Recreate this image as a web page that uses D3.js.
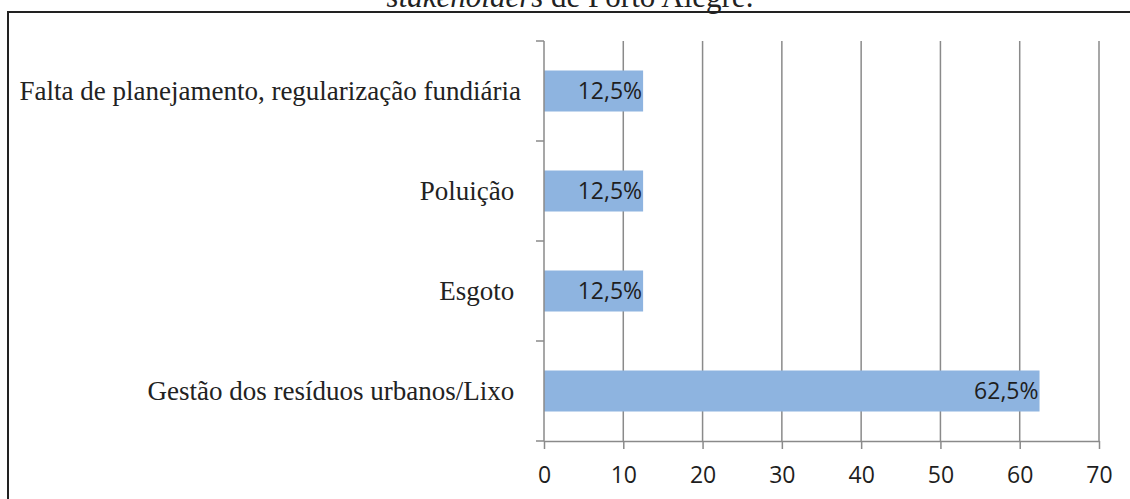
<!DOCTYPE html>
<html>
<head>
    <meta charset="UTF-8" />
    <style>
        body { margin: 0; background: #fff; }
        svg { display: block; }
        .cat { font-family: "Liberation Serif", "Times New Roman", serif; font-size: 27px; fill: #222; white-space: pre; }
        .num { font-family: "Open Sans", sans-serif; font-size: 23px; fill: #1e1e1e; }
    </style>
</head>
<body>
    <svg></svg>
    <script src="https://cdn.jsdelivr.net/npm/d3@7"></script>
    <script>
        // data
        let categories = ["Falta de planejamento, regularização fundiária", "Poluição ", "Esgoto ", "Gestão dos resíduos urbanos/Lixo "];
        let values = [12.5, 12.5, 12.5, 62.5];
        let valueLabels = ["12,5%", "12,5%", "12,5%", "62,5%"];
        let xTicks = [0, 10, 20, 30, 40, 50, 60, 70];

        let width = 1130,
            height = 499;

        let svg = d3.select("svg").attr("width", width).attr("height", height);

        // title cut off at the top of the picture
        let title = svg.append("text")
            .attr("x", 570)
            .attr("y", 7)
            .attr("text-anchor", "middle")
            .style("font-family", "'Liberation Serif', serif")
            .style("font-size", "31px")
            .style("fill", "#222");
        title.append("tspan").style("font-style", "italic").text("stakeholders");
        title.append("tspan").text(" de Porto Alegre.");

        // chart frame (runs off the right and bottom edges)
        svg.append("rect")
            .attr("x", 8)
            .attr("y", 12)
            .attr("width", 1200)
            .attr("height", 600)
            .attr("fill", "none")
            .attr("stroke", "#222")
            .attr("stroke-width", 2);

        let x = d3.scaleLinear().domain([0, 70]).range([544, 1099]);
        let y = d3.scaleBand().domain(categories).range([41, 441])
            .paddingInner(0.59).paddingOuter(0.295);

        let axisColor = "#8a8a8a";

        // vertical gridlines
        svg.append("g")
            .selectAll("line")
            .data(xTicks.slice(1))
            .enter()
            .append("line")
            .attr("x1", (d) => x(d))
            .attr("x2", (d) => x(d))
            .attr("y1", y.range()[0])
            .attr("y2", y.range()[1])
            .attr("stroke", axisColor)
            .attr("stroke-width", 1.5);

        // bars
        svg.append("g")
            .selectAll("rect")
            .data(values)
            .enter()
            .append("rect")
            .attr("x", x(0))
            .attr("y", (d, i) => y(categories[i]))
            .attr("width", (d) => x(d) - x(0))
            .attr("height", y.bandwidth())
            .attr("fill", "#8EB4E0");

        // bar labels
        svg.append("g")
            .selectAll("text")
            .data(values)
            .enter()
            .append("text")
            .attr("class", "num")
            .attr("x", (d) => x(d) - 1)
            .attr("y", (d, i) => y(categories[i]) + y.bandwidth() / 2)
            .attr("dy", "0.36em")
            .attr("text-anchor", "end")
            .text((d, i) => valueLabels[i]);

        // x axis
        let xAxis = d3.axisBottom(x)
            .tickValues(xTicks)
            .tickFormat(d3.format("d"))
            .tickSizeInner(8)
            .tickSizeOuter(0)
            .tickPadding(18);

        let gx = svg.append("g")
            .attr("transform", "translate(0," + y.range()[1] + ")")
            .call(xAxis);
        gx.select(".domain").attr("stroke", axisColor).attr("stroke-width", 1.5);
        gx.selectAll(".tick line").attr("stroke", axisColor).attr("stroke-width", 1.5);
        gx.selectAll(".tick text").attr("class", "num").attr("fill", null);
        gx.attr("font-size", null).attr("font-family", null);

        // y axis line and category boundary ticks
        let step = y.step();
        let bounds = d3.range(categories.length + 1).map((i) => y.range()[0] + i * step);
        svg.append("line")
            .attr("x1", x(0)).attr("x2", x(0))
            .attr("y1", y.range()[0]).attr("y2", y.range()[1])
            .attr("stroke", axisColor).attr("stroke-width", 1.5);
        svg.append("g")
            .selectAll("line")
            .data(bounds)
            .enter()
            .append("line")
            .attr("x1", x(0) - 8).attr("x2", x(0))
            .attr("y1", (d) => d).attr("y2", (d) => d)
            .attr("stroke", axisColor).attr("stroke-width", 1.5);

        // category labels
        svg.append("g")
            .selectAll("text")
            .data(categories)
            .enter()
            .append("text")
            .attr("class", "cat")
            .attr("x", x(0) - 23)
            .attr("y", (d) => y(d) + y.bandwidth() / 2)
            .attr("dy", "0.32em")
            .attr("text-anchor", "end")
            .text((d) => d);
    </script>
</body>
</html>
